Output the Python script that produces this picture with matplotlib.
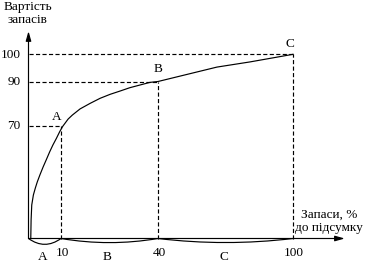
import numpy as np
import matplotlib.pyplot as plt

# ABC analysis curve: share of stock items (%) vs share of stock value (%)
stock_share = [0.7, 0.8, 1.0, 1.5, 2.1, 2.7, 3.5, 4.5, 5.5, 6.5, 7.5, 8.6, 9.6, 10.5, 12.2, 13.5,
               15.9, 19.0, 22.1, 25.2, 28.3, 31.3, 34.4, 37.5, 40, 66.2, 80.9, 100]
value_share = [0, 11.5, 20.8, 27.0, 31.3, 35.1, 39.4, 44.4, 49.0, 53.7, 58.0, 62.2, 66.3, 69.5,
               73.0, 74.8, 77.6, 80.1, 82.4, 84.2, 85.7, 87.2, 88.4, 89.6, 90, 95.3, 97.2, 100]

group_names = ['A', 'B', 'C']
group_x = [10, 40, 100]
group_y = [70, 90, 100]
x_tick_labels = ['10', '40', '100']
y_tick_labels = ['70', '90', '100']

# the drawing is not to scale: piecewise axes (data value -> pixel)
x_knots, x_pix = [0, 10, 40, 100], [28.5, 61, 158, 293]
y_knots, y_pix = [0, 70, 90, 100], [23.5, 136.3, 180.5, 207.7]
W, H = 366, 262
PX = 72 / 100  # points per pixel at dpi 100


def piecewise(knots, pix):
    k = np.asarray(knots, float)
    p = np.asarray(pix, float)
    lo = (p[1] - p[0]) / (k[1] - k[0])
    hi = (p[-1] - p[-2]) / (k[-1] - k[-2])
    kk = np.r_[k[0] - 1e3, k, k[-1] + 1e3]
    pp = np.r_[p[0] - 1e3 * lo, p, p[-1] + 1e3 * hi]
    return (lambda v: np.interp(v, kk, pp)), (lambda v: np.interp(v, pp, kk))


fx, ix = piecewise(x_knots, x_pix)
fy, iy = piecewise(y_knots, y_pix)

plt.rcParams['font.family'] = ['Liberation Serif', 'DejaVu Serif']
fs = 9.5
lw = 0.85

fig = plt.figure(figsize=(W / 100, H / 100), dpi=100)
ax = fig.add_axes([0, 0, 1, 1])
ax.set_xscale('function', functions=(fx, ix))
ax.set_yscale('function', functions=(fy, iy))
ax.set_xlim(float(ix(0)), float(ix(W)))
ax.set_ylim(float(iy(0)), float(iy(H)))
ax.axis('off')

x_end, y_end = 123, 108.5
arrow = dict(arrowstyle='-|>,head_length=0.6,head_width=0.17', lw=lw, color='k',
             shrinkA=0, shrinkB=0)
ax.annotate('', xy=(x_end, 0), xytext=(0, 0), arrowprops=arrow, fontsize=fs)
ax.annotate('', xy=(0, y_end), xytext=(0, 0), arrowprops=arrow, fontsize=fs)

# curve
ax.plot(stock_share, value_share, color='k', lw=lw)

dash = dict(color='k', lw=lw, dashes=(3.5, 2))
for gx, gy in zip(group_x, group_y):
    ax.plot([0, gx], [gy, gy], **dash)
    ax.plot([gx, gx], [0, gy], **dash)

# point labels
offsets = [(-4, 9), (0, 12), (-3, 10)]
for name, gx, gy, (dx, dy) in zip(group_names, group_x, group_y, offsets):
    ax.annotate(name, xy=(gx, gy), xytext=(dx * PX, dy * PX), textcoords='offset points',
                ha='center', va='center', fontsize=fs)

# tick labels
for gx, lbl in zip(group_x, x_tick_labels):
    ax.annotate(lbl, xy=(gx, 0), xytext=(1 * PX, -14 * PX), textcoords='offset points',
                ha='center', va='center', fontsize=fs)
for gy, lbl in zip(group_y, y_tick_labels):
    ax.annotate(lbl, xy=(0, gy), xytext=(-8 * PX, -0.5 * PX), textcoords='offset points',
                ha='right', va='center', fontsize=fs)

# braces under the x axis and group names
bounds = [0] + group_x
rads = [0.36, 0.085, 0.06]
for i, name in enumerate(group_names):
    a, b = bounds[i], bounds[i + 1]
    ax.annotate('', xy=(b, 0), xytext=(a, 0),
                arrowprops=dict(arrowstyle='-', connectionstyle=f'arc3,rad={rads[i]}',
                                lw=lw, color='k', shrinkA=0, shrinkB=0))
    mid = float(ix((fx(a) + fx(b)) / 2))
    ax.annotate(name, xy=(mid, 0), xytext=(-2 * PX, -19 * PX), textcoords='offset points',
                ha='center', va='center', fontsize=fs)

# axis titles
ax.annotate('Вартість\nзапасів', xy=(0, y_end), xytext=(-0.5 * PX, 17.5 * PX),
            textcoords='offset points', ha='center', va='center', fontsize=fs,
            linespacing=1.1)
ax.annotate('Запаси, %\nдо підсумку', xy=(x_end, 0), xytext=(-16 * PX, 17 * PX),
            textcoords='offset points', ha='center', va='center', fontsize=fs,
            linespacing=1.15)

fig.savefig('out.png', dpi=100)
